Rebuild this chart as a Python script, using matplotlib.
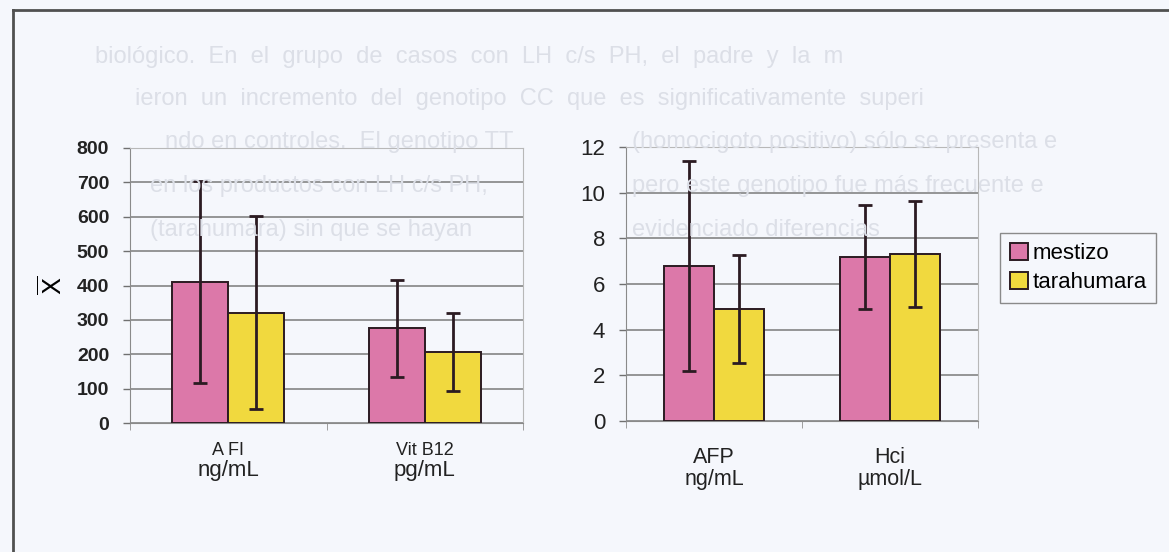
import numpy as np
import matplotlib
matplotlib.use("Agg")
import matplotlib.pyplot as plt
from matplotlib.lines import Line2D
from matplotlib.patches import Patch

plt.rcParams['font.family'] = ['Liberation Sans', 'DejaVu Sans']

# data (mean +/- SD)
groups = ['mestizo', 'tarahumara']
left_cats = ['A FI', 'Vit B12']
left_units = ['ng/mL', 'pg/mL']
left_mean = {'mestizo': [411, 275], 'tarahumara': [321, 206]}
left_sd = {'mestizo': [294, 141], 'tarahumara': [281, 113]}
left_ticks = [0, 100, 200, 300, 400, 500, 600, 700, 800]

right_cats = ['AFP', 'Hci']
right_units = ['ng/mL', 'µmol/L']
right_mean = {'mestizo': [6.8, 7.18], 'tarahumara': [4.92, 7.3]}
right_sd = {'mestizo': [4.6, 2.26], 'tarahumara': [2.36, 2.32]}
right_ticks = [0, 2, 4, 6, 8, 10, 12]

# faint text showing through from the other side of the scanned page
bleed_lines = [
    ('biológico.  En  el  grupo  de  casos  con  LH  c/s  PH,  el  padre  y  la  m', 95, 57),
    ('ieron  un  incremento  del  genotipo  CC  que  es  significativamente  superi', 135, 99),
    ('ndo en controles.  El genotipo TT', 165, 142),
    ('(homocigoto positivo) sólo se presenta e', 632, 142),
    ('en los productos con LH c/s PH,', 150, 186),
    ('pero este genotipo fue más frecuente e', 632, 186),
    ('(tarahumara) sin que se hayan', 150, 230),
    ('evidenciado diferencias', 632, 230),
]

colors = {'mestizo': '#dc78a9', 'tarahumara': '#f1d93e'}
bg = '#f5f7fc'
W, H = 1169, 552

fig = plt.figure(figsize=(11.69, 5.52), dpi=100, facecolor=bg)

for s, x, y in bleed_lines:
    fig.text(x / W, 1 - y / H, s, fontsize=17, color='#dcdfe7',
             va='center', ha='left', zorder=0)

# frame of the scanned figure
fig.add_artist(Line2D([13 / W, 1], [1 - 10 / H, 1 - 10 / H], color='#505050', lw=2))
fig.add_artist(Line2D([13 / W, 13 / W], [0, 1 - 10 / H], color='#505050', lw=2))


def draw_panel(ax, cats, units, mean, sd, ticks, tick_kw, cat_fs, unit_fs, off1, off2):
    x = np.arange(len(cats))
    w = 0.285
    for i, g in enumerate(groups):
        pos = x + (i - 0.5) * w
        ax.bar(pos, mean[g], w, color=colors[g], edgecolor='#2b1b22', lw=1.4, zorder=3)
        ax.errorbar(pos, mean[g], yerr=sd[g], fmt='none', ecolor='#2b1b22',
                    elinewidth=2, capsize=5, capthick=2, zorder=4)
    ax.set_xlim(-0.5, len(cats) - 0.5)
    ax.set_ylim(ticks[0], ticks[-1])
    ax.set_yticks(ticks)
    ax.set_yticklabels([str(t) for t in ticks], **tick_kw)
    ax.tick_params(axis='y', length=5, width=1, color='#707070', pad=10,
                   labelcolor='#222222')
    ax.set_xticks([])
    ax.set_xticks(np.arange(len(cats) + 1) - 0.5, minor=True)
    ax.tick_params(axis='x', which='minor', length=5, color='#909090', labelbottom=False)
    ax.set_facecolor(bg)
    ax.yaxis.grid(True, color='#7a7a7a', lw=1.1, zorder=0)
    ax.set_axisbelow(True)
    for side in ['top', 'right']:
        ax.spines[side].set_color('#b8b8b8')
    for side in ['left', 'bottom']:
        ax.spines[side].set_color('#8a8a8a')
    for xi, c, u in zip(x, cats, units):
        ax.annotate(c, (xi, 0), xytext=(0, -off1), textcoords='offset points',
                    ha='center', va='center', fontsize=cat_fs, color='#222222')
        ax.annotate(u, (xi, 0), xytext=(0, -off2), textcoords='offset points',
                    ha='center', va='center', fontsize=unit_fs, color='#222222')


ax1 = fig.add_axes([130 / W, 1 - 423 / H, 393 / W, 275 / H])
draw_panel(ax1, left_cats, left_units, left_mean, left_sd, left_ticks,
           dict(fontsize=14, fontweight='bold'), 13, 16, 19.5, 34)
ax1.set_ylabel(r'$\overline{\mathrm{X}}$', fontsize=18)
ax1.yaxis.set_label_coords(-0.16, 0.5)

ax2 = fig.add_axes([626 / W, 1 - 421 / H, 352 / W, 274 / H])
draw_panel(ax2, right_cats, right_units, right_mean, right_sd, right_ticks,
           dict(fontsize=16), 15.5, 15.5, 26, 42)

handles = [Patch(facecolor=colors[g], edgecolor='#2b1b22', lw=1.4) for g in groups]
leg = fig.legend(handles, groups, loc='upper left', bbox_to_anchor=(1000 / W, 1 - 233 / H),
                 fontsize=16, frameon=True, fancybox=False, edgecolor='#8a8a8a',
                 facecolor=bg, framealpha=1, handlelength=0.8, handleheight=0.8,
                 handletextpad=0.2, borderpad=0.45, labelspacing=0.35, borderaxespad=0)
leg.get_frame().set_linewidth(1)

fig.savefig('out.png', dpi=100, facecolor=bg)
